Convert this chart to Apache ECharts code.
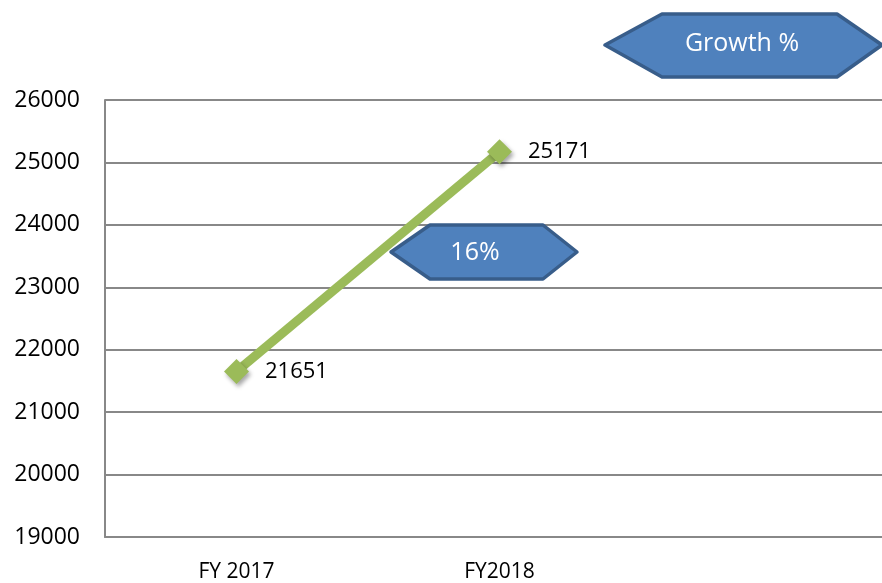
<!DOCTYPE html>
<html>
<head>
<meta charset="utf-8">
<script src="https://cdn.jsdelivr.net/npm/echarts@6/dist/echarts.min.js"></script>
<style>
  html, body { margin: 0; padding: 0; background: #fff; }
  #chart { width: 882px; height: 583px; }
</style>
</head>
<body>
<div id="chart"></div>
<script>
// 年度数据
var categories = ['FY 2017', 'FY2018', ''];
var values = [21651, 25171, null];
var growthText = '16%';
var boxTitle = 'Growth %';

var dom = document.getElementById('chart');
var myChart = echarts.init(dom);
var font = '"Open Sans", "Noto Sans", sans-serif';

// 六边形标签
function hexagon(pts, text, cx, cy) {
    return [
        {
            type: 'polygon',
            shape: { points: pts },
            style: { fill: '#4F81BD', stroke: '#385D8A', lineWidth: 3.5, lineJoin: 'round' },
            z: 10
        },
        {
            type: 'text',
            x: cx, y: cy,
            style: {
                text: text, fill: '#fff', font: '25px ' + font,
                align: 'center', verticalAlign: 'middle'
            },
            z: 11
        }
    ];
}

var option = {
    animation: false,
    grid: { left: 105, top: 100, width: 789, bottom: 46, outerBoundsMode: 'none' },
    xAxis: {
        type: 'category',
        data: categories,
        boundaryGap: true,
        axisLine: { show: true, lineStyle: { color: '#888', width: 2 } },
        axisTick: { show: false },
        axisLabel: { color: '#000', fontSize: 21, fontFamily: font, margin: 25 }
    },
    yAxis: {
        type: 'value',
        min: 19000,
        max: 26000,
        interval: 1000,
        axisLine: { show: true, lineStyle: { color: '#888', width: 2 } },
        axisTick: { show: false },
        splitLine: { lineStyle: { color: '#888', width: 2 } },
        axisLabel: {
            color: '#000', fontSize: 23, fontFamily: font, margin: 25,
            formatter: function (v) { return String(v); }
        }
    },
    series: [
        {
            type: 'line',
            data: values,
            symbol: 'diamond',
            symbolSize: 25,
            lineStyle: { color: '#9BBB59', width: 9 },
            itemStyle: {
                color: '#9BBB59',
                shadowColor: 'rgba(0,0,0,0.35)',
                shadowBlur: 4,
                shadowOffsetX: 2,
                shadowOffsetY: 3
            },
            label: {
                show: true,
                position: 'right',
                distance: 16,
                color: '#000',
                fontSize: 22,
                fontFamily: font
            }
        }
    ],
    graphic: hexagon([[605, 45], [662, 14], [837, 14], [882, 45], [837, 77], [662, 77]], boxTitle, 742, 44)
        .concat(hexagon([[391, 252], [430, 225], [543, 225], [577, 252], [543, 279], [430, 279]], growthText, 475, 253))
};

if (option && typeof option === 'object') {
    myChart.setOption(option, true);
}
</script>
</body>
</html>
